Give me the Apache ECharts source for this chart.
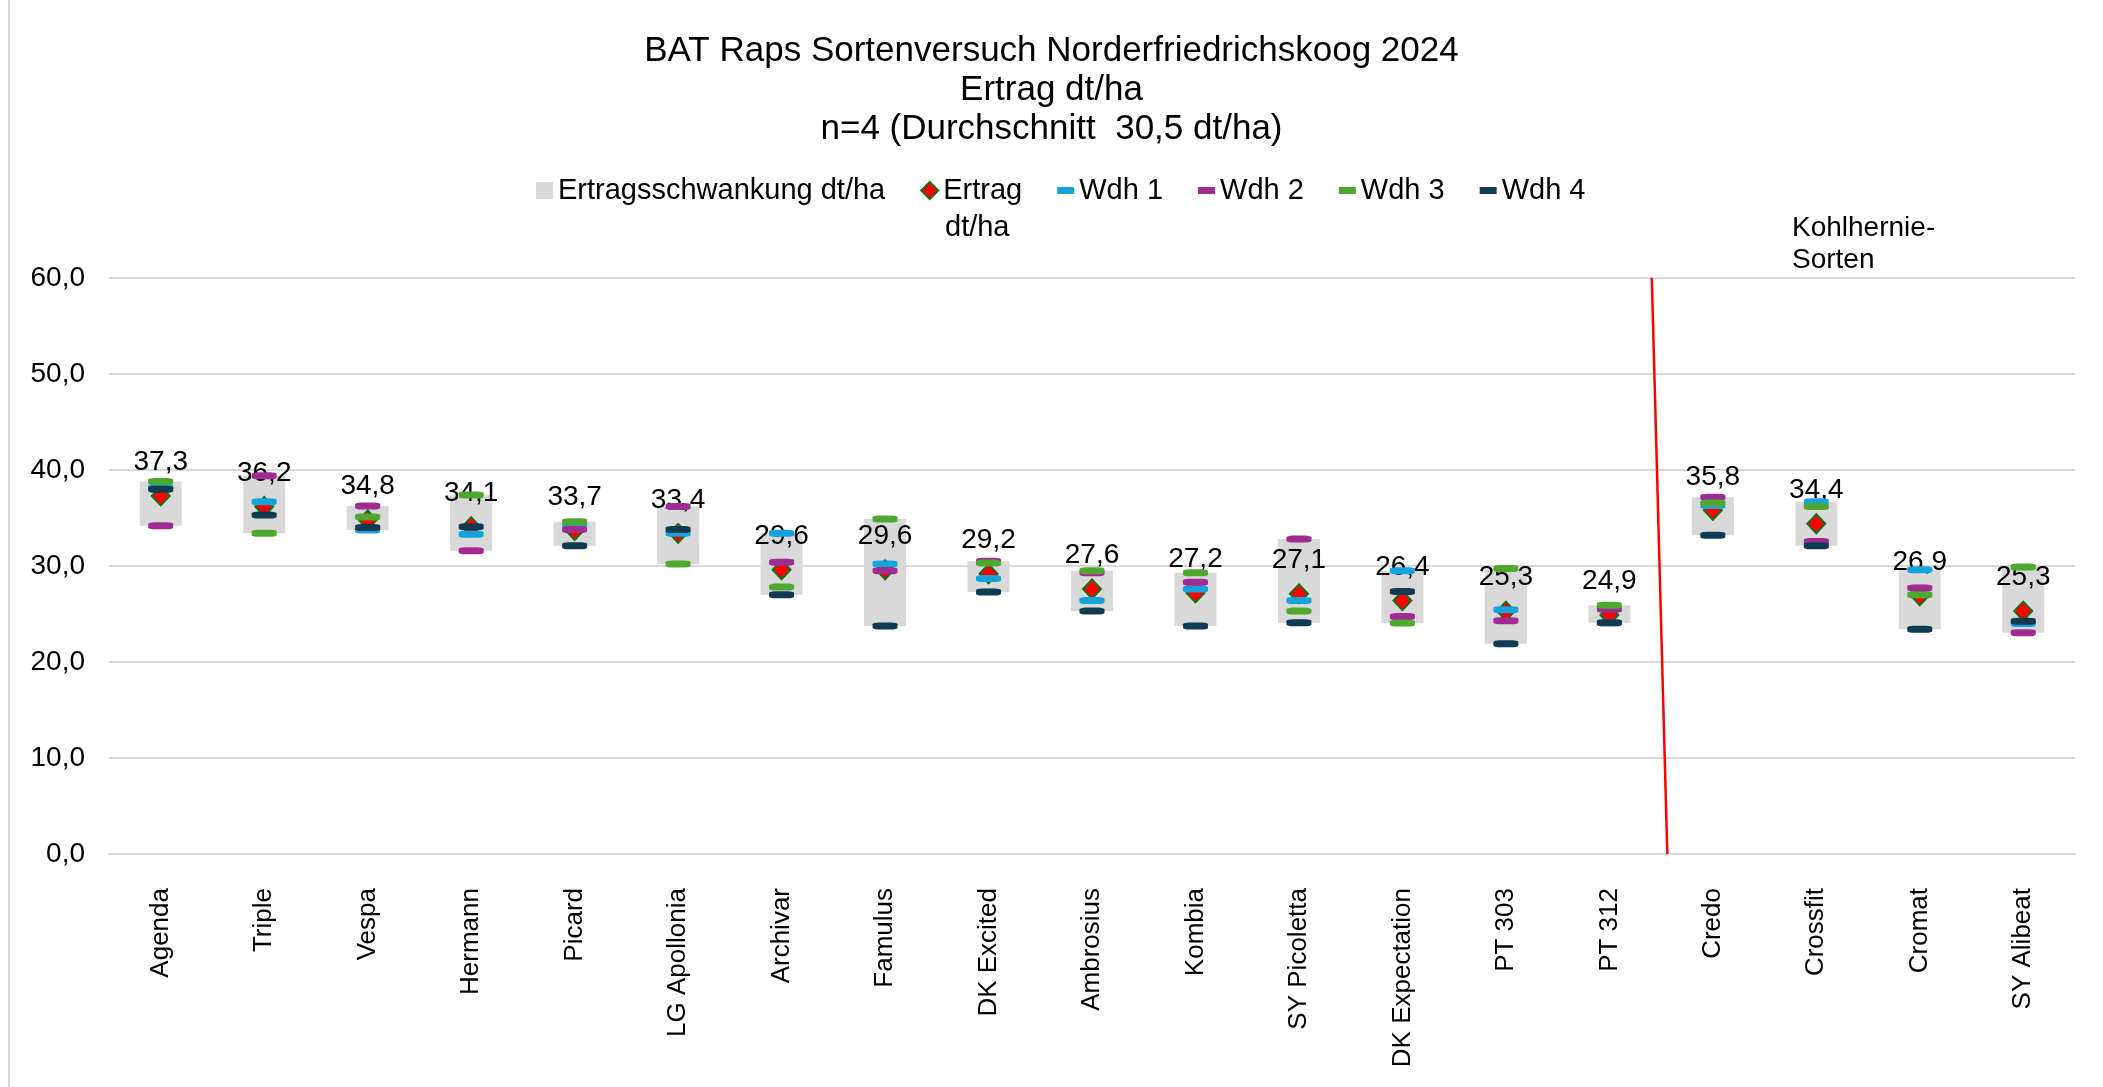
<!DOCTYPE html>
<html>
<head>
<meta charset="utf-8">
<script src="https://cdn.jsdelivr.net/npm/echarts@6/dist/echarts.min.js"></script>
<style>
html,body{margin:0;padding:0;background:#fff;}
#c{width:2103px;height:1087px;}
</style>
</head>
<body>
<div id="c"></div>
<script>
const categories = ["Agenda","Triple","Vespa","Hermann","Picard","LG Apollonia","Archivar","Famulus","DK Excited","Ambrosius","Kombia","SY Picoletta","DK Expectation","PT 303","PT 312","Credo","Crossfit","Cromat","SY Alibeat"];
const ertrag = [37.3,36.2,34.8,34.1,33.7,33.4,29.6,29.6,29.2,27.6,27.2,27.1,26.4,25.3,24.9,35.8,34.4,26.9,25.3];
const wdh1 = [38.2,36.7,33.75,33.3,34.3,33.4,33.4,30.2,28.7,26.4,27.6,26.4,29.5,25.45,24.1,36.3,36.7,29.6,24.0];
const wdh2 = [34.2,39.4,36.25,31.6,33.8,36.2,30.4,29.5,30.5,29.3,28.3,32.8,24.75,24.3,25.5,37.15,32.55,27.7,23.05];
const wdh3 = [38.8,33.4,35.1,37.4,34.6,30.2,27.8,34.9,30.3,29.5,29.3,25.3,24.05,29.75,25.9,36.55,36.2,27.0,29.9];
const wdh4 = [38.0,35.3,34.0,34.1,32.1,33.8,27.0,23.75,27.3,25.3,23.75,24.1,27.35,21.9,24.1,33.2,32.1,23.4,24.25];
const yTicks = [0,10,20,30,40,50,60];
// divider between normal and clubroot-resistant varieties (category-index units)
const dividerLine = [[14.41, 60], [14.56, 0]];

const FONT = "'Liberation Sans', Arial, sans-serif";
const fmt = v => Number(v).toFixed(1).replace('.', ',');

const boxMin = categories.map((_, i) => Math.min(wdh1[i], wdh2[i], wdh3[i], wdh4[i]));
const boxRange = categories.map((_, i) => Math.max(wdh1[i], wdh2[i], wdh3[i], wdh4[i]) - boxMin[i]);

const wdhColors = ['#16a2da', '#a02b93', '#4ea72e', '#0e3a52'];
const barIcon = 'path://M0,0L0,0M0,5L17,5L17,12L0,12ZM0,17L0,17M17,0L17,0';

const chart = echarts.init(document.getElementById('c'), null, {renderer: 'canvas'});

function wdhSeries(name, data, color) {
  return {
    name: name, type: 'scatter', data: data,
    symbol: 'roundRect', symbolSize: [25, 7],
    itemStyle: {color: color, opacity: 1},
    z: 4
  };
}

const option = {
  backgroundColor: '#fff',
  animation: false,
  textStyle: {fontFamily: FONT},
  title: {
    text: 'BAT Raps Sortenversuch Norderfriedrichskoog 2024\nErtrag dt/ha\nn=4 (Durchschnitt  30,5 dt/ha)',
    left: 'center', top: 27,
    textStyle: {fontFamily: FONT, fontSize: 35, fontWeight: 'normal', color: '#000', lineHeight: 39}
  },
  legend: {
    left: 536, top: 173, padding: 0,
    itemWidth: 17, itemHeight: 17, itemGap: 35,
    textStyle: {fontFamily: FONT, fontSize: 29, color: '#000', lineHeight: 35},
    formatter: n => n === 'Ertrag dt/ha' ? 'Ertrag' : n,
    data: [
      {name: 'Ertragsschwankung dt/ha', icon: 'rect'},
      {name: 'Ertrag dt/ha', icon: 'diamond'},
      {name: 'Wdh 1', icon: barIcon},
      {name: 'Wdh 2', icon: barIcon},
      {name: 'Wdh 3', icon: barIcon},
      {name: 'Wdh 4', icon: barIcon}
    ]
  },
  grid: {left: 109, right: 28, top: 278, bottom: 233, containLabel: false},
  xAxis: [{
    type: 'category', data: categories,
    axisLine: {show: true, lineStyle: {color: '#d9d9d9', width: 2}},
    axisTick: {show: false},
    axisLabel: {rotate: 90, margin: 34, fontFamily: FONT, fontSize: 26, color: '#000', interval: 0}
  }, {
    type: 'value', min: -0.5, max: 18.5, show: false
  }],
  yAxis: {
    type: 'value', min: 0, max: 60, interval: 10,
    axisLine: {show: false}, axisTick: {show: false},
    splitLine: {lineStyle: {color: '#d9d9d9', width: 2}},
    axisLabel: {margin: 24, fontFamily: FONT, fontSize: 28, color: '#000', formatter: fmt}
  },
  series: [
    {
      name: '_base', type: 'bar', stack: 'box', data: boxMin, barWidth: 42,
      itemStyle: {color: 'rgba(0,0,0,0)'}, silent: true, z: 1
    },
    {
      name: 'Ertragsschwankung dt/ha', type: 'bar', stack: 'box', data: boxRange, barWidth: 42,
      itemStyle: {color: '#d9d9d9'}, z: 1
    },
    {
      name: 'Ertrag dt/ha', type: 'scatter', data: ertrag,
      symbol: 'diamond', symbolSize: [18, 19],
      itemStyle: {color: '#ff0000', borderColor: '#1a6e1a', borderWidth: 2, opacity: 1},
      label: {show: true, position: 'top', distance: 9, formatter: p => fmt(p.value),
        fontFamily: FONT, fontSize: 28, color: '#000'},
      z: 3
    },
    wdhSeries('Wdh 1', wdh1, wdhColors[0]),
    wdhSeries('Wdh 2', wdh2, wdhColors[1]),
    wdhSeries('Wdh 3', wdh3, wdhColors[2]),
    wdhSeries('Wdh 4', wdh4, wdhColors[3]),
    {
      name: '_divider', type: 'line', xAxisIndex: 1, data: dividerLine,
      symbol: 'none', silent: true,
      lineStyle: {color: '#ff0000', width: 2.5}, z: 5
    }
  ],
  graphic: [
    {type: 'line', shape: {x1: 9, y1: 0, x2: 9, y2: 1087}, style: {stroke: '#d9d9d9', lineWidth: 2}, silent: true},
    {type: 'text', left: 945, top: 213, silent: true,
      style: {text: 'dt/ha', font: '29px ' + FONT, fill: '#000'}},
    {type: 'text', left: 1792, top: 212, silent: true,
      style: {text: 'Kohlhernie-\nSorten', font: '28px ' + FONT, fill: '#000', lineHeight: 32}}
  ]
};
chart.setOption(option);
</script>
</body>
</html>
